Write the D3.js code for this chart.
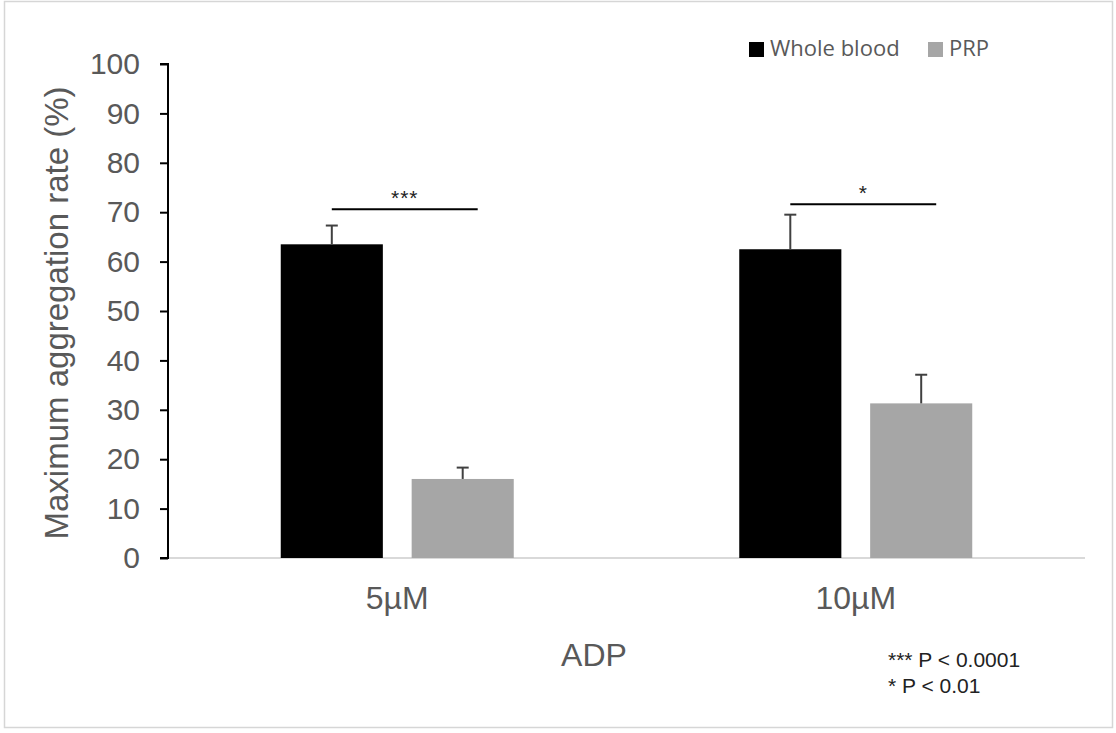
<!DOCTYPE html>
<html>
<head>
<meta charset="utf-8">
<script src="https://cdn.jsdelivr.net/npm/d3@7"></script>
<style>
  body { margin: 0; background: #fff; }
  svg text { font-family: "Liberation Sans", Arial, sans-serif; }
</style>
</head>
<body>
<div id="chart"></div>
<script>
// data
var doses = ['5µM', '10µM'];
var series = ['Whole blood', 'PRP'];
var wholeBlood = [63.5, 62.5];
var wholeBloodErr = [3.8, 7.0];
var prp = [16, 31.3];
var prpErr = [2.3, 5.8];
var sigLabels = ['***', '*'];
var sigLevel = [70.6, 71.6];
var yTicks = [0, 10, 20, 30, 40, 50, 60, 70, 80, 90, 100];
var footnotes = ['*** P < 0.0001', '* P < 0.01'];

var width = 1116, height = 733;
var margin = {top: 64, right: 31, bottom: 175, left: 168};

var svg = d3.select('#chart').append('svg')
  .attr('width', width)
  .attr('height', height);

// faint frame round the figure
svg.append('rect')
  .attr('x', 4.5).attr('y', 1.5)
  .attr('width', width - 8).attr('height', height - 7)
  .attr('fill', 'none').attr('stroke', '#d6d6d6').attr('stroke-width', 1.5);

var g = svg.append('g')
  .attr('transform', 'translate(' + margin.left + ',' + margin.top + ')');

var w = width - margin.left - margin.right;
var h = height - margin.top - margin.bottom;

var x0 = d3.scaleBand().domain(doses).range([0, w]);
var x1 = d3.scaleBand().domain(series).range([0, 233]).paddingInner(0.22);
var y = d3.scaleLinear().domain([0, 100]).range([h, 0]);
var colour = d3.scaleOrdinal().domain(series).range(['#000000', '#a6a6a6']);

var rows = doses.map(function (d, i) {
  return [
    {dose: d, s: series[0], v: wholeBlood[i], e: wholeBloodErr[i]},
    {dose: d, s: series[1], v: prp[i], e: prpErr[i]}
  ];
});

function barX(d) {
  return x0(d.dose) + (x0.bandwidth() - 233) / 2 + x1(d.s);
}

// baseline
g.append('line')
  .attr('x1', 0).attr('x2', w)
  .attr('y1', h).attr('y2', h)
  .attr('stroke', '#d9d9d9').attr('stroke-width', 2);

var groups = g.selectAll('.grp')
  .data(rows)
  .enter().append('g')
  .attr('class', 'grp');

groups.selectAll('rect')
  .data(function (d) { return d; })
  .enter().append('rect')
  .attr('x', barX)
  .attr('y', function (d) { return y(d.v); })
  .attr('width', x1.bandwidth())
  .attr('height', function (d) { return h - y(d.v); })
  .attr('fill', function (d) { return colour(d.s); });

// error bars (upper only)
var errs = groups.selectAll('.err')
  .data(function (d) { return d; })
  .enter().append('g').attr('class', 'err');

errs.append('line')
  .attr('x1', function (d) { return barX(d) + x1.bandwidth() / 2; })
  .attr('x2', function (d) { return barX(d) + x1.bandwidth() / 2; })
  .attr('y1', function (d) { return y(d.v); })
  .attr('y2', function (d) { return y(d.v + d.e); })
  .attr('stroke', '#404040').attr('stroke-width', 2);

errs.append('line')
  .attr('x1', function (d) { return barX(d) + x1.bandwidth() / 2 - 6; })
  .attr('x2', function (d) { return barX(d) + x1.bandwidth() / 2 + 6; })
  .attr('y1', function (d) { return y(d.v + d.e); })
  .attr('y2', function (d) { return y(d.v + d.e); })
  .attr('stroke', '#404040').attr('stroke-width', 2);

// significance lines
doses.forEach(function (d, i) {
  var a = barX(rows[i][0]) + x1.bandwidth() / 2;
  var b = barX(rows[i][1]) + x1.bandwidth() / 2 + 15;
  g.append('line')
    .attr('x1', a).attr('x2', b)
    .attr('y1', y(sigLevel[i])).attr('y2', y(sigLevel[i]))
    .attr('stroke', '#000').attr('stroke-width', 2);
  g.append('text')
    .attr('x', (a + b) / 2)
    .attr('y', y(sigLevel[i]) - 4)
    .attr('text-anchor', 'middle')
    .attr('font-size', 21)
    .attr('letter-spacing', 1)
    .attr('fill', '#222')
    .text(sigLabels[i]);
});

// y axis
var yAxis = g.append('g')
  .call(d3.axisLeft(y).tickValues(yTicks).tickSize(8).tickPadding(20));
yAxis.select('.domain').attr('stroke', '#000').attr('stroke-width', 2)
  .attr('d', 'M-8,' + y(100) + 'H0V' + y(0) + 'H-8');
yAxis.selectAll('.tick line').attr('stroke', '#000').attr('stroke-width', 2);
yAxis.selectAll('.tick text')
  .attr('font-size', 30).attr('fill', '#595959')
  .style('font-family', '"Liberation Sans", Arial, sans-serif');

// x labels
g.selectAll('.xlab')
  .data(doses)
  .enter().append('text')
  .attr('class', 'xlab')
  .attr('x', function (d) { return x0(d) + x0.bandwidth() / 2; })
  .attr('y', h + 51)
  .attr('text-anchor', 'middle')
  .attr('font-size', 32)
  .attr('fill', '#595959')
  .text(function (d) { return d; });

// axis titles
svg.append('text')
  .attr('transform', 'translate(68,' + (margin.top + h / 2 + 2) + ') rotate(-90)')
  .attr('text-anchor', 'middle')
  .attr('font-size', 33)
  .attr('fill', '#595959')
  .text('Maximum aggregation rate (%)');

svg.append('text')
  .attr('x', 594).attr('y', 666)
  .attr('text-anchor', 'middle')
  .attr('font-size', 32)
  .attr('fill', '#595959')
  .text('ADP');

// legend
var leg = svg.append('g').attr('transform', 'translate(749,41)');
var legX = [0, 179];
series.forEach(function (s, i) {
  leg.append('rect')
    .attr('x', legX[i]).attr('y', 1)
    .attr('width', 15).attr('height', 15)
    .attr('fill', colour(s));
  leg.append('text')
    .attr('x', legX[i] + 21).attr('y', 15)
    .attr('font-size', 22)
    .attr('fill', '#595959')
    .style('font-family', '"Open Sans", sans-serif')
    .text(s);
});

// footnotes
svg.selectAll('.foot')
  .data(footnotes)
  .enter().append('text')
  .attr('class', 'foot')
  .attr('x', 888)
  .attr('y', function (d, i) { return 667 + i * 26; })
  .attr('font-size', 21)
  .attr('fill', '#222')
  .text(function (d) { return d; });
</script>
</body>
</html>
